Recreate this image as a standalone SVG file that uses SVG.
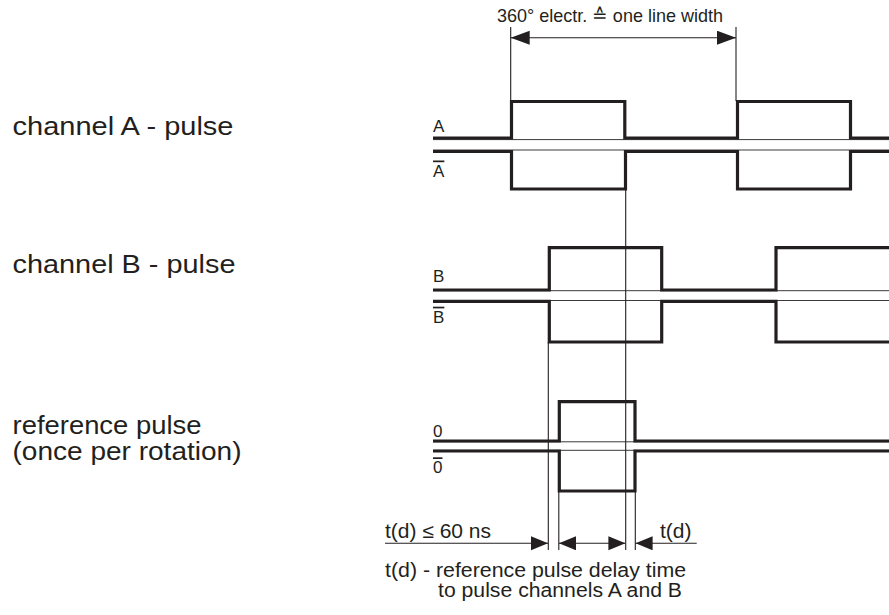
<svg xmlns="http://www.w3.org/2000/svg" width="889" height="615" viewBox="0 0 889 615">
<style>
  text { font-family: "Liberation Sans", Arial, sans-serif; fill: #231f20; }
  .big { font-size: 25px; }
  .lbl { font-size: 17px; }
  .ov { text-decoration: overline; }
  .sm { font-size: 20px; }
  .top { font-size: 18.5px; }
  .wave { fill: none; stroke: #231f20; stroke-width: 3.2; stroke-linejoin: miter; stroke-linecap: butt; }
  .ref { fill: none; stroke: #3a3a3a; stroke-width: 1; }
  .dim { fill: none; stroke: #231f20; stroke-width: 1.1; }
</style>
<defs>
  <marker id="ah" markerUnits="userSpaceOnUse" markerWidth="18" markerHeight="15" refX="17" refY="7" orient="auto-start-reverse">
    <path d="M0,0 L17,7 L0,14 z" fill="#231f20"/>
  </marker>
  <marker id="ahBig" markerUnits="userSpaceOnUse" markerWidth="20" markerHeight="15" refX="19" refY="7" orient="auto-start-reverse">
    <path d="M0,0 L19,7 L0,14 z" fill="#231f20"/>
  </marker>
</defs>
<rect width="889" height="615" fill="#ffffff"/>

<g id="labels-left">
  <text class="big" x="12.5" y="134.5" textLength="221" lengthAdjust="spacingAndGlyphs">channel A - pulse</text>
  <text class="big" x="12.5" y="272.7" textLength="223" lengthAdjust="spacingAndGlyphs">channel B - pulse</text>
  <text class="big" x="12.5" y="433.5" textLength="189" lengthAdjust="spacingAndGlyphs">reference pulse</text>
  <text class="big" x="12.5" y="460" textLength="229" lengthAdjust="spacingAndGlyphs">(once per rotation)</text>
</g>

<g id="channel-A">
  <line class="ref" x1="433" y1="139.6" x2="889" y2="139.6"/>
  <line class="ref" x1="433" y1="150" x2="889" y2="150"/>
  <path class="wave" d="M433,138 H511.5 V101.5 H624.8 V138 H737.5 V101.5 H850.5 V138 H889"/>
  <path class="wave" d="M433,151.5 H511.5 V189 H625.5 V151.5 H737.5 V189 H850.5 V151.5 H889"/>
  <text class="lbl" x="433" y="132">A</text>
  <text class="lbl ov" x="433" y="176.5">A</text>
</g>

<g id="channel-B">
  <line class="ref" x1="433" y1="290.7" x2="889" y2="290.7"/>
  <line class="ref" x1="433" y1="300.5" x2="889" y2="300.5"/>
  <path class="wave" d="M433,290 H549.3 V247.7 H661.7 V290 H776 V247.7 H889"/>
  <path class="wave" d="M433,301.3 H549.3 V342 H661.7 V301.3 H776 V342 H889"/>
  <text class="lbl" x="433" y="281.7">B</text>
  <text class="lbl ov" x="433" y="322.7">B</text>
</g>

<g id="reference-pulse">
  <line class="ref" x1="433" y1="441.8" x2="889" y2="441.8"/>
  <line class="ref" x1="433" y1="450.3" x2="889" y2="450.3"/>
  <path class="wave" d="M433,441 H559.3 V401.7 H635 V441 H889"/>
  <path class="wave" d="M433,451 H559.3 V491 H635 V451 H889"/>
  <text class="lbl" x="433" y="436.7">0</text>
  <text class="lbl ov" x="433" y="473.3">0</text>
</g>

<g id="connectors">
  <line class="dim" x1="510.7" y1="27" x2="510.7" y2="101"/>
  <line class="dim" x1="736" y1="27" x2="736" y2="101"/>
  <line class="dim" x1="510.7" y1="37.7" x2="736" y2="37.7" marker-start="url(#ahBig)" marker-end="url(#ahBig)"/>

  <line class="dim" x1="625.7" y1="189" x2="625.7" y2="550"/>
  <line class="dim" x1="548.3" y1="342" x2="548.3" y2="550"/>
  <line class="dim" x1="558.8" y1="491" x2="558.8" y2="550"/>
  <line class="dim" x1="635.3" y1="491" x2="635.3" y2="550"/>

  <line class="dim" x1="385" y1="543.3" x2="548" y2="543.3" marker-end="url(#ah)"/>
  <line class="dim" x1="559" y1="543.3" x2="625.4" y2="543.3" marker-start="url(#ah)" marker-end="url(#ah)"/>
  <line class="dim" x1="696.7" y1="543.3" x2="635.6" y2="543.3" marker-end="url(#ah)"/>
</g>

<g id="annotations">
  <text class="top" x="497" y="22" textLength="226" lengthAdjust="spacingAndGlyphs">360° electr. ≙ one line width</text>
  <text class="sm" x="385" y="538.3" textLength="106" lengthAdjust="spacingAndGlyphs">t(d) ≤ 60 ns</text>
  <text class="sm" x="660" y="538.3" textLength="31.5" lengthAdjust="spacingAndGlyphs">t(d)</text>
  <text class="sm" x="385" y="577" textLength="301" lengthAdjust="spacingAndGlyphs">t(d) - reference pulse delay time</text>
  <text class="sm" x="438" y="597" textLength="244" lengthAdjust="spacingAndGlyphs">to pulse channels A and B</text>
</g>
</svg>
